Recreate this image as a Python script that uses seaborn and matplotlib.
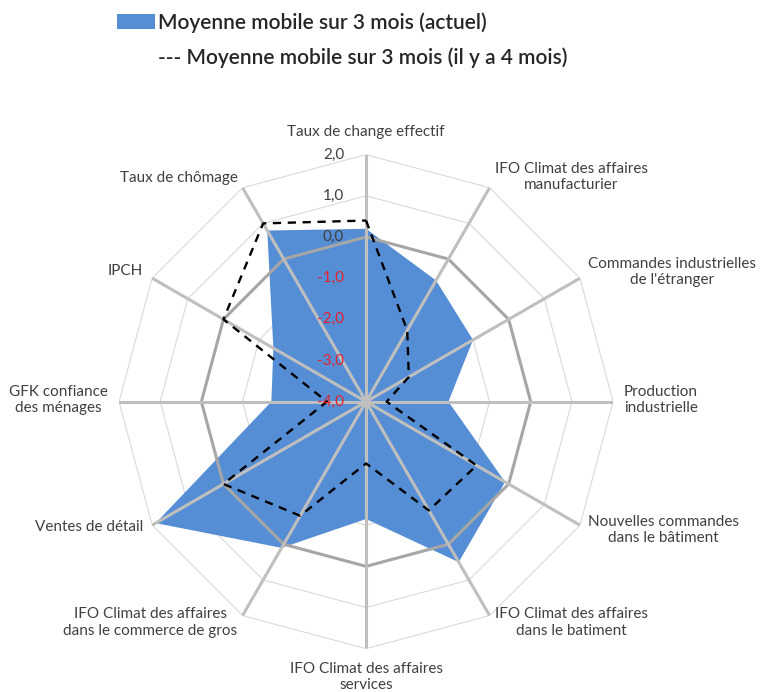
import numpy as np
import matplotlib
matplotlib.use("Agg")
import matplotlib.pyplot as plt
import seaborn as sns
from matplotlib.patches import Patch
from matplotlib.lines import Line2D

# data (clockwise from the top)
categories = [
    "Taux de change effectif",
    "IFO Climat des affaires\nmanufacturier",
    "Commandes industrielles\nde l'étranger",
    "Production\nindustrielle",
    "Nouvelles commandes\ndans le bâtiment",
    "IFO Climat des affaires\ndans le batiment",
    "IFO Climat des affaires\nservices",
    "IFO Climat des affaires\ndans le commerce de gros",
    "Ventes de détail",
    "GFK confiance\ndes ménages",
    "IPCH",
    "Taux de chômage",
]
actuel = [0.2, -0.6, -1.0, -2.0, -0.1, 0.5, -1.15, 0.1, 1.9, -1.7, -1.4, 0.8]
il_y_a_4_mois = [0.4, -2.0, -2.8, -3.5, -0.9, -0.95, -2.5, -0.8, 0.0, -3.05, 0.0, 1.0]
tick_values = [2, 1, 0, -1, -2, -3, -4]
tick_labels = ["2,0", "1,0", "0,0", "-1,0", "-2,0", "-3,0", "-4,0"]
legend_labels = ["Moyenne mobile sur 3 mois (actuel)",
                 "--- Moyenne mobile sur 3 mois (il y a 4 mois)"]

# label placement (pixel offsets from the tip of each spoke)
label_offsets = [(0, 23), (5, 11), (8, 6), (11, 2), (8, -5), (5, -7),
                 (0, -28), (-5, -7), (-9, -2), (-11, 2), (-9, 7), (-5, 10)]
label_ha = ["center", "left", "left", "left", "left", "left",
            "center", "right", "right", "right", "right", "right"]

blue = "#558ED5"
txt = "#404040"

sns.set_theme(style="white")
plt.rcParams['font.family'] = ['Lato', 'DejaVu Sans']

n = len(categories)
angles = np.linspace(0, 2 * np.pi, n, endpoint=False)
ang_closed = np.append(angles, angles[0])

fig = plt.figure(figsize=(7.65, 6.92), dpi=100)
ax = fig.add_axes([0.1556, 0.0626, 0.6458, 0.7139], projection='polar')
ax.set_theta_zero_location('N')
ax.set_theta_direction(-1)
ax.set_ylim(-4, 2)
ax.grid(False)
ax.spines['polar'].set_visible(False)
ax.set_xticks([])
ax.set_yticks([])
ax.patch.set_alpha(0)

# rings
for v in tick_values[:-1]:
    if v == 0:
        ax.plot(ang_closed, [v] * (n + 1), color="#A6A6A6", lw=2.2, zorder=3)
    else:
        ax.plot(ang_closed, [v] * (n + 1), color="#D9D9D9", lw=0.8, zorder=1)

# spokes
for a in angles:
    ax.plot([a, a], [-4, 2], color="#BFBFBF", lw=2.2, zorder=3)

# series
ax.fill(ang_closed, actuel + actuel[:1], color=blue, lw=0, zorder=2)
ax.plot(ang_closed, il_y_a_4_mois + il_y_a_4_mois[:1], color="black",
        lw=1.7, ls=(0, (3.5, 2.8)), zorder=4)

# category labels
for a, lab, off, ha in zip(angles, categories, label_offsets, label_ha):
    ax.annotate(lab, xy=(a, 2), xytext=off, textcoords='offset pixels',
                ha=ha, va='center', multialignment='center',
                fontsize=11, color=txt, annotation_clip=False)

# value labels on the top spoke
for v, lab in zip(tick_values, tick_labels):
    col = txt if v >= 0 else "#E8202A"
    ax.annotate(lab, xy=(0, v), xytext=(-22, 0), textcoords='offset pixels',
                ha='right', va='center', fontsize=11, color=col, zorder=5)

# legend
handles = [Patch(facecolor=blue, edgecolor='none'), Line2D([], [], color='none')]
fig.legend(handles, legend_labels, loc='upper left',
           bbox_to_anchor=(113 / 765, 1 - 8 / 692), frameon=False,
           borderpad=0.2, borderaxespad=0,
           prop={'size': 15, 'weight': 'semibold'}, labelcolor="#262626",
           handlelength=1.83, handleheight=0.67, handletextpad=0.15,
           labelspacing=0.72)

fig.savefig("out.png", dpi=100)
